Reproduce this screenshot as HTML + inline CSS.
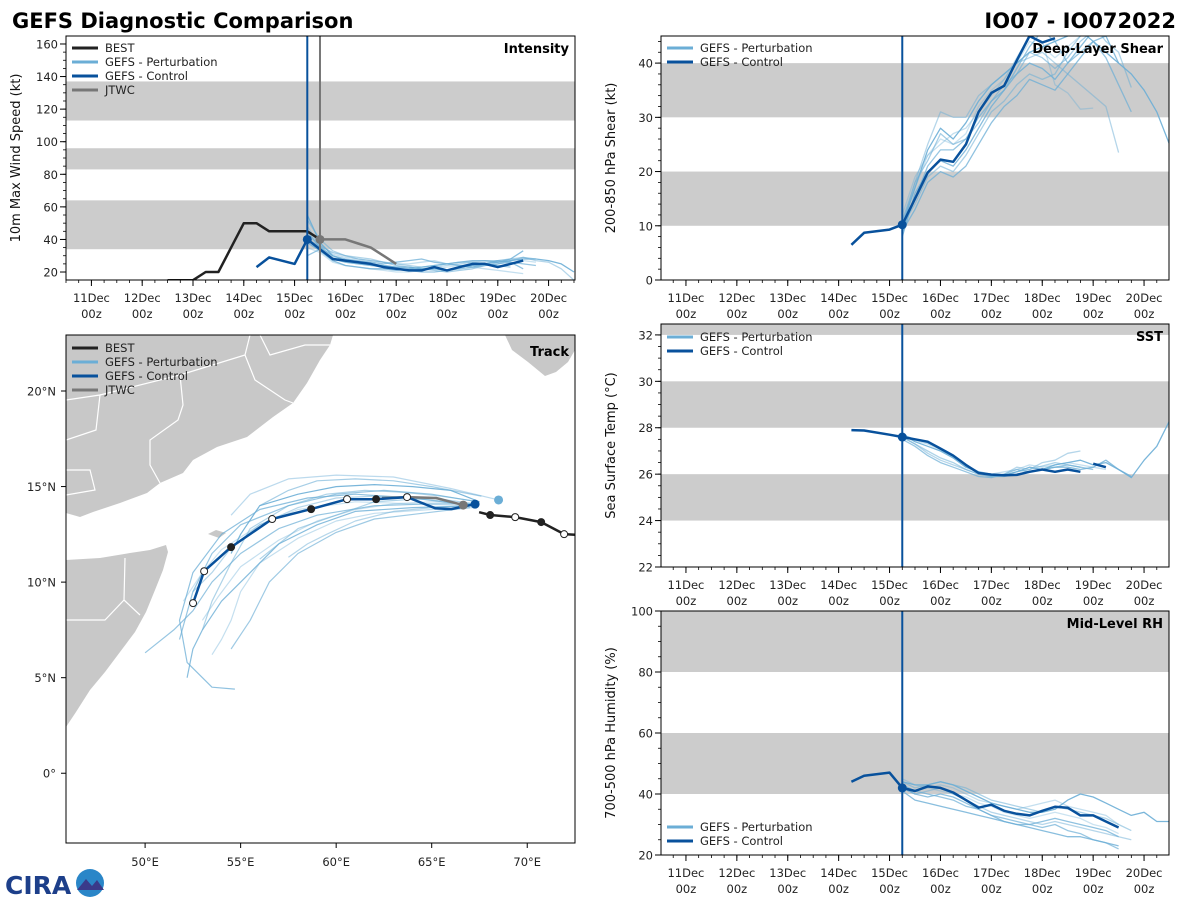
<!DOCTYPE html>
<html><head><meta charset="utf-8">
<style>
html,body{margin:0;padding:0;background:#fff;}
svg{display:block;font-family:"DejaVu Sans","Liberation Sans",sans-serif;}
</style></head>
<body>
<svg id="fig" width="1200" height="900" viewBox="0 0 1200 900">
<text x="12" y="28" font-size="21" font-weight="bold">GEFS Diagnostic Comparison</text>
<text x="1176" y="28" font-size="21" font-weight="bold" text-anchor="end">IO07 - IO072022</text>
<g>
<text x="5" y="894" font-size="25" font-weight="bold" fill="#1d3f8a">CIRA</text>
<circle cx="90" cy="883" r="14" fill="#2a86c8"/>
<path d="M77 890 L86 879 L92 886 L97 880 L104 890 Z" fill="#3a3a8a"/>
</g>
</svg>
<script>
// ---------- data ----------
const tickDays = [11,12,13,14,15,16,17,18,19,20];
const tickDayLabels = ["11Dec","12Dec","13Dec","14Dec","15Dec","16Dec","17Dec","18Dec","19Dec","20Dec"];
const initTime = 15.25;
const jtwcInitTime = 15.5;
const pertTimes = [15.25,15.5,15.75,16,16.25,16.5,16.75,17,17.25,17.5,17.75,18,18.25,18.5,18.75,19,19.25,19.5,19.75,20,20.25,20.5];

const bestTimes = [12.5,12.75,13,13.25,13.5,13.75,14,14.25,14.5,14.75,15,15.25,15.5];
const bestWind = [15,15,15,20,20,35,50,50,45,45,45,45,40];
const jtwcTimes = [15.5,15.75,16,16.25,16.5,16.75,17];
const jtwcWind = [40,40,40,37.5,35,30,25];
const ctlTimes = [14.25,14.5,15,15.25,15.5,15.75,16,16.25,16.5,16.75,17,17.25,17.5,17.75,18,18.25,18.5,18.75,19,19.25,19.5];
const ctlWind = [23,29,25,40,34,28,27,26,25,23,22,21,21,23,21,23,25,25,23,25,27];
const pertWind = [
 [55,38,30,27,26,25,24,23,23,22,22,21,23,24,25,26,27,28,28,27,25,20],
 [48,36,29,26,25,24,24,23,22,22,23,24,25,26,27,27,28,29,27,26,22,15],
 [30,34,28,26,25,24,23,22,21,20,20,21,22,23,24,25,26,25,24],
 [42,37,31,29,28,27,26,25,25,26,27,25,24,23,22,21,20,19],
 [38,33,27,24,23,22,22,21,22,23,24,25,26,27,27,26,28,33],
 [52,40,33,30,29,28,26,25,24,23,24,25,26,26,25,24,23],
 [35,32,26,24,23,22,21,20,20,21,22,23,24,25,26,27,28,27,26],
 [45,35,30,28,27,26,25,26,27,28,26,25,24,23,25,27,26,22],
 [40,36,32,30,28,27,26,24,23,22,21,20,21,22,24,25,27,29,28]
];

const ctlShear = [6.5,8.7,9.3,10.2,15,19.8,22.2,21.8,25,31,34.5,35.8,40.5,45,43.8,44.6];
const pertShear = [
 [10,17,24,28,26,29,33,36,38,40,42,43,44,45,46,44,42,40,38,35,31,25,23],
 [11,18,25,31,30,30,34,36,38,40,41,42,40,38,36,34,32,23.5],
 [9,15,21,24,24,26,30,33,35,39,43,46,44,40,42,44,41,36,31],
 [12,19,23,25,27,28,31,34,37,41,45,44,36,34.5,31.5,31.7],
 [8,16,20,22,21,24,28,32,35,38,40,39,37,40,43,46,45,40],
 [10,14,19,21,20,23,27,31,33,36,38,37,38,42,45,47,44,42,35.5],
 [11,17,23,26,25,27,32,35,37,40,44,43,41,43,45,47],
 [9,13,18,20,19,21,25,29,32,34,37,36,35,38,41,44,45,46],
 [10,18,22,27,25,26,29,33,36,38,42,41,39,41,44,46,47]
];

const ctlSst = [27.9,27.88,27.7,27.6,27.5,27.4,27.1,26.8,26.4,26.05,25.98,25.95,25.97,26.1,26.2,26.1,26.2,26.1];
const ctlSstB = [26.45,26.3];
const ctlSstBTimes = [19.0,19.25];
const pertSst = [
 [27.7,27.4,27.2,27.0,26.7,26.3,26.1,26.0,25.95,26.1,26.3,26.2,26.4,26.5,26.6,26.4,26.5,26.2,25.85,26.6,27.2,28.3],
 [27.6,27.3,26.9,26.6,26.4,26.2,26.0,25.9,26.0,26.3,26.2,26.5,26.6,26.9,27.0],
 [27.5,27.2,26.8,26.5,26.3,26.1,25.9,25.85,26.0,26.2,26.1,26.2,26.3,26.4,26.3,26.2],
 [27.6,27.45,27.3,27.05,26.7,26.3,26.05,26.0,26.1,26.2,26.4,26.3,26.4,26.5,26.4,26.3,26.2],
 [27.7,27.5,27.35,27.1,26.8,26.4,26.1,25.9,25.9,26.0,26.1,26.2,26.3,26.3,26.2,26.3,26.6,26.2,25.9],
 [27.6,27.3,27.0,26.7,26.5,26.2,26.0,25.9,25.95,26.1,26.2,26.35,26.5,26.4,26.3]
];

const ctlRh = [44,46,47,42,41,42.5,42,40.5,38,35.5,36.5,34.5,33.5,33,34.5,35.8,35.5,33,33,31,29];
const pertRh = [
 [44,43,43,44,43,41,39,37,36,35,34,34,35,38,40,39,37,35,33,34,31,31],
 [42,40,41,42,40,38,36,34,33,32,31,30,31,30,29,28,27,26,25],
 [43,41,40,39,38,36,35,33,32,31,30,29,30,28,27,25,24,22],
 [45,43,42,43,42,40,38,37,36,35,36,37,38,36,35,34,33,30],
 [41,38,37,36,35,34,33,32,31,30,29,28,27,26,26,25,24,23],
 [44,42,43,44,43,42,40,38,37,36,35,34,36,35,34,33,32,30,28],
 [43,41,42,41,40,39,37,36,34,33,32,33,34,33,32,30,29,27],
 [42,40,39,40,39,37,35,33,31,30,30,31,32,31,30,29,28,26]
];

// track data (lon, lat)
const ctlTrackLon = [67.27,66.02,65.18,63.71,62.09,60.57,58.69,56.65,54.50,53.09,52.51];
const ctlTrackLat = [14.08,13.82,13.87,14.45,14.34,14.34,13.82,13.30,11.83,10.57,8.90];
const ctlTrackFilled = [1,1,1,0,1,0,1,0,1,0,0];
const bestTrackLon = [67.48,68.06,69.37,70.73,71.93,72.9];
const bestTrackLat = [13.66,13.51,13.40,13.14,12.51,12.45];
const bestTrackFilled = [1,1,0,1,0,0];
const jtwcTrackLon = [66.65,65.23,63.71,62.40];
const jtwcTrackLat = [14.03,14.40,14.45,14.40];
const pertTrackLon = [
 [67.5,66,64,62,60,58,56,55,54.5],
 [67.3,65,62,60,58,56,54.5,53.5,52.5],
 [67.4,65,62,59,57,55,53.5,52.5,51.5,50],
 [67.2,65,62,60,58,56,55,54.5,54,53.5],
 [67.3,64,61,59,57,55.5,54,53,52.5,52.2],
 [67.3,65,62,60,58,57,56],
 [67,64,61,58,56,54,53,52],
 [67.2,64,61,58.5,56,54,52.5,51.8,52.2,53.5,54.7],
 [67.6,65,63,61,59,57.5,56],
 [68.5,66,63,60,57.5,55.5,54.5],
 [67,64.5,62,60,58,56.5,55.5,54.5],
 [67.3,65,63,61,59.5,58.5,57.5],
 [67.4,65,62.5,60,57.5,55,53.5,52.5,51.8],
 [67.1,65,63,61,59,57,55,53.8,53],
 [67.5,65.5,63.5,61.5,59.5,57.5,55.5,54.5,53.5,53]
];
const pertTrackLat = [
 [14.2,14.8,15.0,15.1,15.0,14.6,14.0,12.5,11.5],
 [14.0,14.3,14.5,14.4,13.9,13.0,11.8,10.5,9.5],
 [14.1,14.1,14.0,13.5,12.8,11.5,10,8.5,7.5,6.3],
 [13.9,13.8,13.6,13.2,12.3,11,9.5,8,7,6.2],
 [14.0,13.9,13.7,13.0,12,10.5,9,7.5,6.5,5],
 [14.1,14.4,14.2,13.5,12.8,12.0,11.2],
 [14.0,14.1,14.2,13.8,13,11.7,10.5,9],
 [14.0,14.4,14.6,14.4,13.8,12.5,10.5,8,5.8,4.5,4.4],
 [14.5,15.0,15.3,15.4,15.3,14.8,14.0],
 [14.3,14.9,15.5,15.6,15.4,14.6,13.5],
 [13.9,13.6,13.3,12.6,11.5,10,8,6.5],
 [14.0,13.9,13.7,13.2,12.5,12,11.3],
 [14.2,14.6,14.8,14.6,14.0,13.0,11.5,9.5,7.0],
 [14.1,14.2,14.1,13.8,13.2,12.2,10.8,9.2,8.0],
 [14.2,14.5,14.7,14.8,14.6,14.0,12.8,11.0,9.0,7.5]
];
const lonTicks = [50,55,60,65,70];
const latTicks = [0,5,10,15,20];

// ---------- drawing ----------
const NS = 'http://www.w3.org/2000/svg';
const svg = document.getElementById('fig');
function mk(tag, attrs, parent){
  const e = document.createElementNS(NS, tag);
  for (const k in attrs) e.setAttribute(k, attrs[k]);
  (parent || svg).appendChild(e);
  return e;
}
const CTL = '#08519c', PERT = '#6baed6', BEST = '#222222', JTWC = '#777777', BAND = '#cccccc';
const pertAlphas = [0.9,0.5,0.7,0.4,0.8,0.55,0.35,0.75,0.6,0.45,0.65,0.5,0.7,0.4,0.55];
let clipId = 0;

function panel(cfg){
  const {x0,y0,w,h,xmin,xmax,ymin,ymax,name} = cfg;
  const g = mk('g', {});
  
  
  const sx = d => x0 + (d - xmin) / (xmax - xmin) * w;
  const sy = v => y0 + h - (v - ymin) / (ymax - ymin) * h;
  const id = 'clip' + (clipId++);
  const cp = mk('clipPath', {id: id}, g);
  mk('rect', {x: x0, y: y0, width: w, height: h}, cp);
  const inner = mk('g', {'clip-path': 'url(#' + id + ')'}, g);
  return {g, inner, sx, sy, cfg};
}

function bands(p, list){
  list.forEach(b => {
    const r = mk('rect', {x: p.cfg.x0, y: p.sy(b[1]), width: p.cfg.w, height: p.sy(b[0]) - p.sy(b[1]), fill: BAND}, p.inner);
    
    
  });
}

function line(p, xs, ys, color, width, opacity, nm){
  const d = xs.map((x, i) => (i ? 'L' : 'M') + p.sx(x).toFixed(1) + ' ' + p.sy(ys[i]).toFixed(1)).join(' ');
  const e = mk('path', {d: d, fill: 'none', stroke: color, 'stroke-width': width, 'stroke-opacity': opacity, 'stroke-linejoin': 'round'}, p.inner);
  
  
  return e;
}

function timeAxis(p, ylabel, yticks, yminor, label){
  const {x0,y0,w,h} = p.cfg;
  const yb = y0 + h;
  for (let d = Math.ceil(p.cfg.xmin * 4) / 4; d <= p.cfg.xmax; d += 0.25){
    mk('line', {x1: p.sx(d), x2: p.sx(d), y1: yb, y2: yb + 3, stroke: '#000', 'stroke-width': 0.8}, p.g);
  }
  tickDays.forEach((d, i) => {
    const x = p.sx(d);
    mk('line', {x1: x, x2: x, y1: yb, y2: yb + 6, stroke: '#000', 'stroke-width': 1}, p.g);
    const t1 = mk('text', {x: x, y: yb + 22, 'font-size': 11.5, 'text-anchor': 'middle', fill: '#222'}, p.g);
    t1.textContent = tickDayLabels[i];
    
    
    const t2 = mk('text', {x: x, y: yb + 38, 'font-size': 11.5, 'text-anchor': 'middle', fill: '#222'}, p.g);
    t2.textContent = '00z';
    
    
  });
  yminor.forEach(v => {
    mk('line', {x1: x0 - 3, x2: x0, y1: p.sy(v), y2: p.sy(v), stroke: '#000', 'stroke-width': 0.8}, p.g);
  });
  yticks.forEach(v => {
    const y = p.sy(v);
    mk('line', {x1: x0 - 6, x2: x0, y1: y, y2: y, stroke: '#000', 'stroke-width': 1}, p.g);
    const t = mk('text', {x: x0 - 8, y: y + 4.5, 'font-size': 11.5, 'text-anchor': 'end', fill: '#222'}, p.g);
    t.textContent = v;
    
    
  });
  const cx = x0 - 46, cy = y0 + h / 2;
  const yt = mk('text', {x: cx, y: cy, 'font-size': 13, 'text-anchor': 'middle', transform: 'rotate(-90 ' + cx + ' ' + cy + ')', fill: '#111'}, p.g);
  yt.textContent = ylabel;
  
  
  const lt = mk('text', {x: x0 + w - 6, y: y0 + 17, 'font-size': 13, 'font-weight': 'bold', 'text-anchor': 'end'}, p.g);
  lt.textContent = label;
  
  
  const fr = mk('rect', {x: x0, y: y0, width: w, height: h, fill: 'none', stroke: '#000', 'stroke-width': 1}, p.g);
  
  
}

function legend(g, x, y, entries){
  entries.forEach((e, i) => {
    const yy = y + i * 14;
    const l = mk('line', {x1: x, x2: x + 26, y1: yy, y2: yy, stroke: e[1], 'stroke-width': 3}, g);
    
    
    const t = mk('text', {x: x + 33, y: yy + 4, 'font-size': 11.5, fill: '#222'}, g);
    t.textContent = e[0];
    
    
  });
}

function vline(p, d, color, nm){
  const e = mk('line', {x1: p.sx(d), x2: p.sx(d), y1: p.cfg.y0, y2: p.cfg.y0 + p.cfg.h, stroke: color, 'stroke-width': 2}, p.inner);
  
  
}

function dot(p, d, v, r, color, nm){
  const e = mk('circle', {cx: p.sx(d), cy: p.sy(v), r: r, fill: color}, p.inner);
  
  
}

function range(a, b, s){ const o = []; for (let v = a; v <= b + 1e-9; v += s) o.push(+v.toFixed(3)); return o; }

function pertLines(p, arrs){
  arrs.forEach((vals, k) => {
    line(p, pertTimes.slice(0, vals.length), vals, PERT, 1.3, pertAlphas[k % pertAlphas.length], 'perturbation-line');
  });
}

// Intensity
const pI = panel({x0: 66, y0: 36, w: 509, h: 244, xmin: 10.5, xmax: 20.52, ymin: 15.1, ymax: 164.9, name: 'intensity'});
bands(pI, [[34, 64], [83, 96], [113, 137]]);
pertLines(pI, pertWind);
line(pI, bestTimes, bestWind, BEST, 2.5, 1, 'best-intensity-line');
line(pI, jtwcTimes, jtwcWind, JTWC, 2.5, 1, 'jtwc-intensity-line');
line(pI, ctlTimes, ctlWind, CTL, 2.5, 1, 'control-intensity-line');
vline(pI, initTime, CTL, 'gefs-init-line');
vline(pI, jtwcInitTime, JTWC, 'jtwc-init-line');
dot(pI, initTime, ctlWind[ctlTimes.indexOf(initTime)], 4.5, CTL, 'control-init-point');
dot(pI, jtwcInitTime, jtwcWind[0], 4.5, JTWC, 'jtwc-init-point');
timeAxis(pI, '10m Max Wind Speed (kt)', range(20, 160, 20), range(20, 160, 5), 'Intensity');
legend(pI.g, 72, 48, [['BEST', BEST], ['GEFS - Perturbation', PERT], ['GEFS - Control', CTL], ['JTWC', JTWC]]);

// Shear
const pS = panel({x0: 661, y0: 36, w: 508, h: 244, xmin: 10.51, xmax: 20.49, ymin: 0, ymax: 45, name: 'shear'});
bands(pS, [[10, 20], [30, 40]]);
pertLines(pS, pertShear);
line(pS, ctlTimes.slice(0, ctlShear.length), ctlShear, CTL, 2.5, 1, 'control-shear-line');
vline(pS, initTime, CTL, 'gefs-init-line');
dot(pS, initTime, ctlShear[3], 4.5, CTL, 'control-init-point');
timeAxis(pS, '200-850 hPa Shear (kt)', range(0, 40, 10), range(0, 44, 2), 'Deep-Layer Shear');
legend(pS.g, 667, 48, [['GEFS - Perturbation', PERT], ['GEFS - Control', CTL]]);

// SST
const pT = panel({x0: 661, y0: 324, w: 508, h: 243, xmin: 10.51, xmax: 20.49, ymin: 22, ymax: 32.47, name: 'sst'});
bands(pT, [[24, 26], [28, 30], [32, 34]]);
pertLines(pT, pertSst);
line(pT, ctlTimes.slice(0, ctlSst.length), ctlSst, CTL, 2.5, 1, 'control-sst-line');
line(pT, ctlSstBTimes, ctlSstB, CTL, 2.5, 1, 'control-sst-line-segment');
vline(pT, initTime, CTL, 'gefs-init-line');
dot(pT, initTime, ctlSst[3], 4.5, CTL, 'control-init-point');
timeAxis(pT, 'Sea Surface Temp (°C)', range(22, 32, 2), range(22, 32, 0.5), 'SST');
legend(pT.g, 667, 337, [['GEFS - Perturbation', PERT], ['GEFS - Control', CTL]]);

// RH
const pR = panel({x0: 661, y0: 611, w: 508, h: 244, xmin: 10.51, xmax: 20.49, ymin: 20, ymax: 100, name: 'rh'});
bands(pR, [[40, 60], [80, 100]]);
pertLines(pR, pertRh);
line(pR, ctlTimes, ctlRh, CTL, 2.5, 1, 'control-rh-line');
vline(pR, initTime, CTL, 'gefs-init-line');
dot(pR, initTime, ctlRh[3], 4.5, CTL, 'control-init-point');
timeAxis(pR, '700-500 hPa Humidity (%)', range(20, 100, 20), range(20, 100, 5), 'Mid-Level RH');
legend(pR.g, 667, 827, [['GEFS - Perturbation', PERT], ['GEFS - Control', CTL]]);

// Track
const pK = panel({x0: 66, y0: 335, w: 509, h: 508, xmin: 45.86, xmax: 72.5, ymin: -3.65, ymax: 22.93, name: 'track'});
const landA = 'M66 335 L333 335 L330 345 L320 360 L307 383 L293 403 L273 417 L247 437 L217 447 L193 460 L183 473 L160 483 L147 493 L120 503 L93 512 L80 517 L66 513 Z';
const landB = 'M66 560 L100 558 L130 553 L150 550 L166 545 L168 552 L163 570 L155 590 L146 612 L135 632 L120 652 L105 672 L90 690 L76 712 L66 727 Z';
const landC = 'M505 335 L575 335 L575 350 L568 362 L556 372 L545 376 L528 362 L512 350 Z';
const landD = 'M208 534 L216 530 L226 533 L219 538 Z';
[landA, landB, landC, landD].forEach(d => {
  const e = mk('path', {d: d, fill: '#c8c8c8', stroke: 'none'}, pK.inner);
  
  
});
const borders = ['M66 400 L100 395 L96 430 L66 440', 'M100 395 L180 375 L245 355 L250 335', 'M180 375 L183 405 L178 420 L150 440 L150 465 L160 483', 'M245 355 L255 380 L285 400 L293 403', 'M260 335 L270 355 L305 345 L330 345', 'M66 470 L90 470 L95 490 L66 495', 'M125 558 L124 600 L105 620 L66 620', 'M124 600 L140 615'];
borders.forEach(d => {
  const e = mk('path', {d: d, fill: 'none', stroke: '#fff', 'stroke-width': 1.2}, pK.inner);
  
  
});
pertTrackLon.forEach((lons, k) => {
  line(pK, lons, pertTrackLat[k], PERT, 1.2, pertAlphas[k % pertAlphas.length], 'perturbation-track');
});
line(pK, bestTrackLon, bestTrackLat, BEST, 2.5, 1, 'best-track');
line(pK, jtwcTrackLon, jtwcTrackLat, JTWC, 2.5, 1, 'jtwc-track');
line(pK, ctlTrackLon, ctlTrackLat, CTL, 2.5, 1, 'control-track');
function trackMarkers(lons, lats, filled){
  lons.forEach((lo, i) => {
    const e = mk('circle', {cx: pK.sx(lo), cy: pK.sy(lats[i]), r: 3.5, fill: filled[i] ? '#222' : '#fff', stroke: '#222', 'stroke-width': 1}, pK.inner);
    
    
  });
}
trackMarkers(bestTrackLon.slice(1), bestTrackLat.slice(1), bestTrackFilled.slice(1));
trackMarkers(ctlTrackLon.slice(3), ctlTrackLat.slice(3), ctlTrackFilled.slice(3));
dot(pK, jtwcTrackLon[0], jtwcTrackLat[0], 4.5, JTWC, 'jtwc-init-position');
dot(pK, pertTrackLon[9][0], pertTrackLat[9][0], 4.5, PERT, 'perturbation-init-position');
dot(pK, ctlTrackLon[0], ctlTrackLat[0], 4.5, CTL, 'control-init-position');
lonTicks.forEach(lo => {
  const x = pK.sx(lo);
  mk('line', {x1: x, x2: x, y1: 843, y2: 848, stroke: '#000'}, pK.g);
  const t = mk('text', {x: x, y: 866, 'font-size': 11.5, 'text-anchor': 'middle', fill: '#222'}, pK.g);
  t.textContent = lo + '°E';
  
  
});
latTicks.forEach(la => {
  const y = pK.sy(la);
  mk('line', {x1: 61, x2: 66, y1: y, y2: y, stroke: '#000'}, pK.g);
  const t = mk('text', {x: 56, y: y + 4.5, 'font-size': 11.5, 'text-anchor': 'end', fill: '#222'}, pK.g);
  t.textContent = la === 0 ? '0°' : la + '°N';
  
  
});
const tl = mk('text', {x: 569, y: 356, 'font-size': 13, 'font-weight': 'bold', 'text-anchor': 'end'}, pK.g);
tl.textContent = 'Track';


const tf = mk('rect', {x: 66, y: 335, width: 509, height: 508, fill: 'none', stroke: '#000'}, pK.g);


legend(pK.g, 72, 348, [['BEST', BEST], ['GEFS - Perturbation', PERT], ['GEFS - Control', CTL], ['JTWC', JTWC]]);
</script>
</body></html>
